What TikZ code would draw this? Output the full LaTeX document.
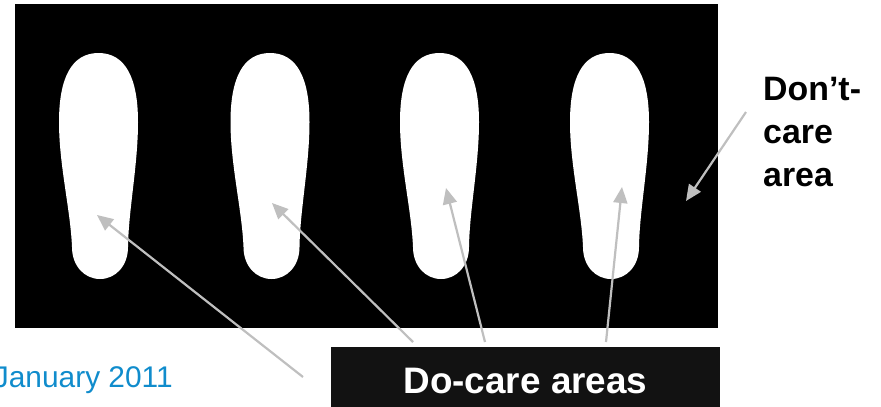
\documentclass[tikz,border=0pt]{standalone}
\usepackage{fontspec}
\setmainfont{Liberation Sans}
\usetikzlibrary{arrows.meta}
\definecolor{pointergray}{RGB}{191,191,191}
\definecolor{dateblue}{RGB}{16,140,204}
\definecolor{boxblack}{RGB}{18,18,18}
\tikzset{
  pointer/.style={draw=pointergray, line width=2.2bp, -{Triangle[length=16bp,width=14bp]}},
  bigword/.style={font=\fontsize{34}{43}\selectfont\bfseries, inner sep=0pt}
}
\begin{document}
\begin{tikzpicture}[x=1bp,y=-1bp]
  \useasboundingbox (0,0) rectangle (881,406);
  \fill (15,4) rectangle (718,328);
  \foreach \cx in {98.5,270,439.5,609.5} {
    \fill[white] (\cx-39.5,122) .. controls (\cx-39.5,78) and (\cx-27,53) .. (\cx,53)
      .. controls (\cx+27,53) and (\cx+39.5,78) .. (\cx+39.5,122)
      .. controls (\cx+39.5,165) and (\cx+30,210) .. (\cx+29.5,247)
      .. controls (\cx+29.5,266) and (\cx+17,279) .. (\cx+1.5,279)
      .. controls (\cx-14,279) and (\cx-26.5,266) .. (\cx-26.5,247)
      .. controls (\cx-28,210) and (\cx-39.5,165) .. cycle;
  }
  \fill[boxblack] (331,347) rectangle (720,410);
  \node[font=\fontsize{37}{44}\selectfont\bfseries, text=white, anchor=base, inner sep=0pt]
    (docare) at (525.5,393) {Do-care areas};
  \node[bigword, align=left, anchor=north west] (dontcare) at (763,77) {Don’t-\\care\\area};
  \node[font=\fontsize{30}{36}\selectfont, text=dateblue, anchor=base east, inner sep=0pt]
    (date) at (173,387) {January 2011};
  \foreach \i/\sx/\sy/\tx/\ty in {1/303/377/97/215, 2/413/342/272/203,
                                  3/485/342/446/188, 4/606/342/622/187} {
    \coordinate (from\i) at (\sx,\sy);
    \coordinate (foot\i) at (\tx,\ty);
    \draw[pointer] (from\i) -- (foot\i);
  }
  \coordinate (fromdont) at (746,112);
  \coordinate (ground) at (686,201);
  \draw[pointer] (fromdont) -- (ground);
\end{tikzpicture}
\end{document}
